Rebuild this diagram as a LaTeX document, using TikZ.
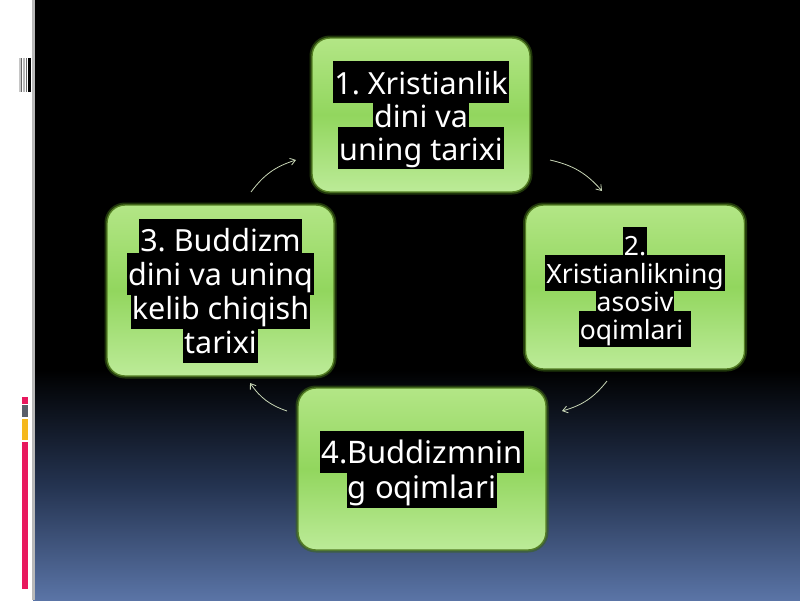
\documentclass[tikz,border=0pt]{standalone}
\usepackage{fontspec}
\setmainfont{Noto Sans}
\usetikzlibrary{arrows.meta}
\definecolor{gtop}{HTML}{B3E686}
\definecolor{gmid}{HTML}{92D65E}
\definecolor{gbot}{HTML}{BCEB98}
\definecolor{gedge}{HTML}{557F25}
\definecolor{gglow}{HTML}{3A6414}
\definecolor{arrowc}{HTML}{C8D6B6}
\definecolor{bgmid}{HTML}{243350}
\definecolor{bgbot}{HTML}{5A74A6}
\definecolor{barred}{HTML}{E8185E}
\definecolor{bargray}{HTML}{5A5F6A}
\definecolor{baryel}{HTML}{F5B81C}
\frenchspacing
\newdimen\hlht \newdimen\hldp
\newif\ifhlbox
\newcommand\hlstrut{\rule[-\hldp]{0pt}{\dimexpr\hlht+\hldp\relax}}
\newcommand\hl[1]{\ifhlbox\colorbox{black}{\hlstrut\kern1pt#1\kern1pt}\else\hlstrut\kern1pt#1\kern1pt\fi}
\setlength\fboxsep{0pt}
\tikzset{
  gbox/.style={rounded corners=18pt, draw=gedge, line width=1.4pt,
    top color=gtop, bottom color=gbot, middle color=gmid,
    preaction={draw=gglow, line width=5pt, opacity=0.55}},
  nfont/.style n args={4}{font={\frenchspacing\fontsize{#1}{#2}\selectfont\lineskiplimit=-100pt\relax\lineskip=0pt\relax\hlht=#3\relax\hldp=#4\relax}},
  lines/.style={align=center, inner sep=0pt},
  boxlayer/.style={lines, text=black, execute at begin node=\hlboxtrue},
  txtlayer/.style={lines, text=white, execute at begin node=\hlboxfalse},
  cyc/.style={draw=arrowc, line width=0.8pt, -{Straight Barb[length=5pt,width=7pt]}, bend left=18},
}
\newcommand\tA{\hl{1. Xristianlik}\\\hl{dini va}\\\hl{uning tarixi}}
\newcommand\tB{\hl{2.}\\\hl{Xristianlikning}\\\hl{asosiv}\\\hl{oqimlari\ }}
\newcommand\tC{\hl{3. Buddizm}\\\hl{dini va uninq}\\\hl{kelib chiqish}\\\hl{tarixi}}
\newcommand\tD{\hl{4.Buddizmnin}\\\hl{g oqimlari}}
\begin{document}
\begin{tikzpicture}[x=1pt,y=-1pt]
\useasboundingbox (0,0) rectangle (800,600);
% background
\fill[white] (0,0) rectangle (800,600);
\fill[black] (33,0) rectangle (800,372);
\shade[top color=black, bottom color=bgbot, middle color=bgmid] (33,370) rectangle (800,600);
\fill[gray!55] (31.5,0) rectangle (34.5,600);
% barcode
\fill[gray!45] (18.5,58) rectangle (20.5,92);
\fill[gray!80!black] (21,58) rectangle (22.3,92);
\fill[gray!55] (23.2,58) rectangle (24.6,92);
\fill[gray!85!black] (25.6,58) rectangle (26.9,92);
\fill[black] (27.6,58) rectangle (30.8,92);
% side bar
\fill[barred] (22,397) rectangle (28,404);
\fill[bargray] (22,405) rectangle (28,417);
\fill[baryel] (22,419) rectangle (28,440);
\fill[barred] (22,442) rectangle (28,589);
% boxes
\node[gbox, minimum width=218pt, minimum height=154pt] (n1) at (421,115) {};
\node[gbox, minimum width=219pt, minimum height=164pt] (n2) at (635,287) {};
\node[gbox, minimum width=227pt, minimum height=171pt] (n3) at (220.5,290.5) {};
\node[gbox, minimum width=248pt, minimum height=162pt] (n4) at (422,469) {};
% texts: highlight layer then white text layer
\node[boxlayer, nfont={30.5}{33}{33pt}{9pt}] (t1b) at (n1) {\tA};
\node[txtlayer, nfont={30.5}{33}{33pt}{9pt}] (t1t) at (n1) {\tA};
\node[boxlayer, nfont={26.5}{28}{28pt}{8pt}] (t2b) at (n2) {\tB};
\node[txtlayer, nfont={26.5}{28}{28pt}{8pt}] (t2t) at (n2) {\tB};
\node[boxlayer, nfont={30.5}{34}{33pt}{9pt}] (t3b) at (n3) {\tC};
\node[txtlayer, nfont={30.5}{34}{33pt}{9pt}] (t3t) at (n3) {\tC};
\node[boxlayer, nfont={31}{35}{33pt}{9pt}] (t4b) at (n4) {\tD};
\node[txtlayer, nfont={31}{35}{33pt}{9pt}] (t4t) at (n4) {\tD};
% cycle arrows
\coordinate (a1s) at (550,160); \coordinate (a1e) at (602,191);
\coordinate (a2s) at (607,381); \coordinate (a2e) at (562,411);
\coordinate (a3s) at (287,411); \coordinate (a3e) at (250,383);
\coordinate (a4s) at (251,192); \coordinate (a4e) at (296,160);
\draw[cyc] (a1s) to (a1e);
\draw[cyc] (a2s) to (a2e);
\draw[cyc] (a3s) to (a3e);
\draw[cyc] (a4s) to (a4e);
\end{tikzpicture}
\end{document}
